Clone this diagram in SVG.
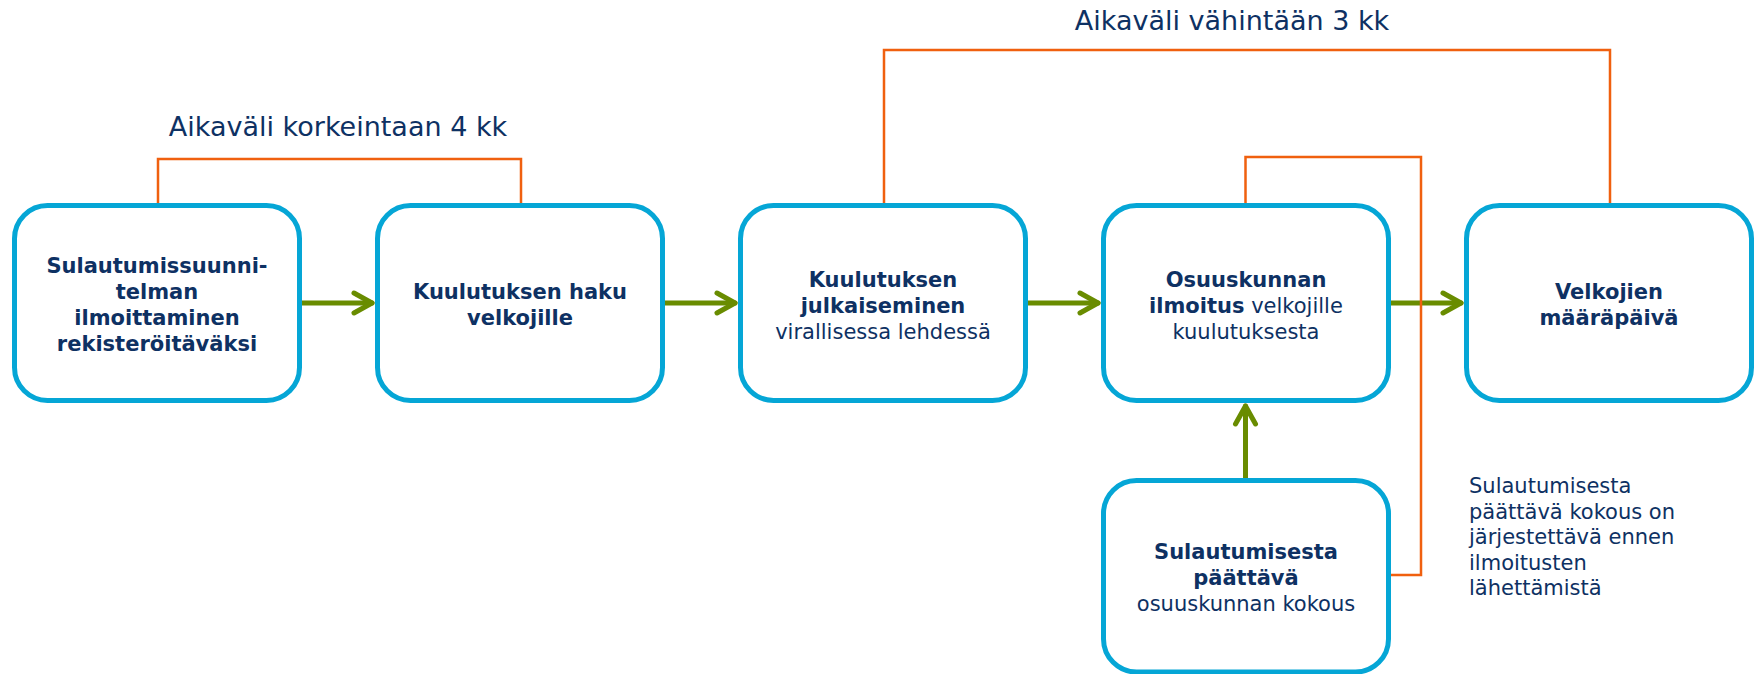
<svg xmlns="http://www.w3.org/2000/svg" width="1758" height="674" viewBox="0 0 1758 674">
<style>
.box{fill:#fff;stroke:#05A6D6;stroke-width:5}
.t{font-family:"DejaVu Sans",Verdana,sans-serif;font-size:21px;fill:#0E3163;text-anchor:middle}
.b{font-weight:bold}
.lbl{font-family:"DejaVu Sans",Verdana,sans-serif;font-size:27px;fill:#0E3163;text-anchor:middle}
.note{font-family:"DejaVu Sans",Verdana,sans-serif;font-size:21px;fill:#0E3163}
.arr{fill:none;stroke:#698C00;stroke-width:5;stroke-linecap:round;stroke-linejoin:round;marker-end:url(#chev)}
.br{fill:none;stroke:#F0600F;stroke-width:2.5}
</style>
<defs>
<marker id="chev" markerUnits="userSpaceOnUse" orient="auto" refX="0" refY="0" markerWidth="30" markerHeight="30" viewBox="-25 -15 30 30" overflow="visible">
<path d="M-18,-10 L0,0 L-18,10" fill="none" stroke="#698C00" stroke-width="5" stroke-linecap="round" stroke-linejoin="round"/>
</marker>
</defs>
<g id="connectors">
<path class="arr" d="M302,303 H372"/>
<path class="arr" d="M665,303 H735"/>
<path class="arr" d="M1028,303 H1098"/>
<path class="arr" d="M1391,303 H1461"/>
<path class="arr" d="M1245.5,478 V406"/>
<path class="br" d="M158,205 V159 H521 V205"/>
<path class="br" d="M884,205 V50 H1610 V205"/>
<path class="br" d="M1245.5,205 V157 H1421 V575 H1390"/>
</g>
<g id="label-4kk"><text class="lbl" x="338" y="136">Aikaväli korkeintaan 4 kk</text></g>
<g id="label-3kk"><text class="lbl" x="1232" y="30">Aikaväli vähintään 3 kk</text></g>
<g id="node1">
<rect class="box" x="14.5" y="205.5" width="285" height="195" rx="33"/>
<text class="t b" x="157" y="273">Sulautumissuunni-</text>
<text class="t b" x="157" y="299">telman</text>
<text class="t b" x="157" y="325">ilmoittaminen</text>
<text class="t b" x="157" y="351">rekisteröitäväksi</text>
</g>
<g id="node2">
<rect class="box" x="377.5" y="205.5" width="285" height="195" rx="33"/>
<text class="t b" x="520" y="299">Kuulutuksen haku</text>
<text class="t b" x="520" y="325">velkojille</text>
</g>
<g id="node3">
<rect class="box" x="740.5" y="205.5" width="285" height="195" rx="33"/>
<text class="t b" x="883" y="287">Kuulutuksen</text>
<text class="t b" x="883" y="313">julkaiseminen</text>
<text class="t" x="883" y="339">virallisessa lehdessä</text>
</g>
<g id="node4">
<rect class="box" x="1103.5" y="205.5" width="285" height="195" rx="33"/>
<text class="t b" x="1246" y="287">Osuuskunnan</text>
<text class="t" x="1246" y="313"><tspan class="b">ilmoitus</tspan> velkojille</text>
<text class="t" x="1246" y="339">kuulutuksesta</text>
</g>
<g id="node5">
<rect class="box" x="1466.5" y="205.5" width="285" height="195" rx="33"/>
<text class="t b" x="1609" y="299">Velkojien</text>
<text class="t b" x="1609" y="325">määräpäivä</text>
</g>
<g id="node6">
<rect class="box" x="1103.5" y="480.5" width="285" height="191.5" rx="33"/>
<text class="t b" x="1246" y="559">Sulautumisesta</text>
<text class="t b" x="1246" y="585">päättävä</text>
<text class="t" x="1246" y="611">osuuskunnan kokous</text>
</g>
<g id="note">
<text class="note" x="1469" y="493">Sulautumisesta</text>
<text class="note" x="1469" y="518.5">päättävä kokous on</text>
<text class="note" x="1469" y="544">järjestettävä ennen</text>
<text class="note" x="1469" y="569.5">ilmoitusten</text>
<text class="note" x="1469" y="595">lähettämistä</text>
</g>
</svg>
